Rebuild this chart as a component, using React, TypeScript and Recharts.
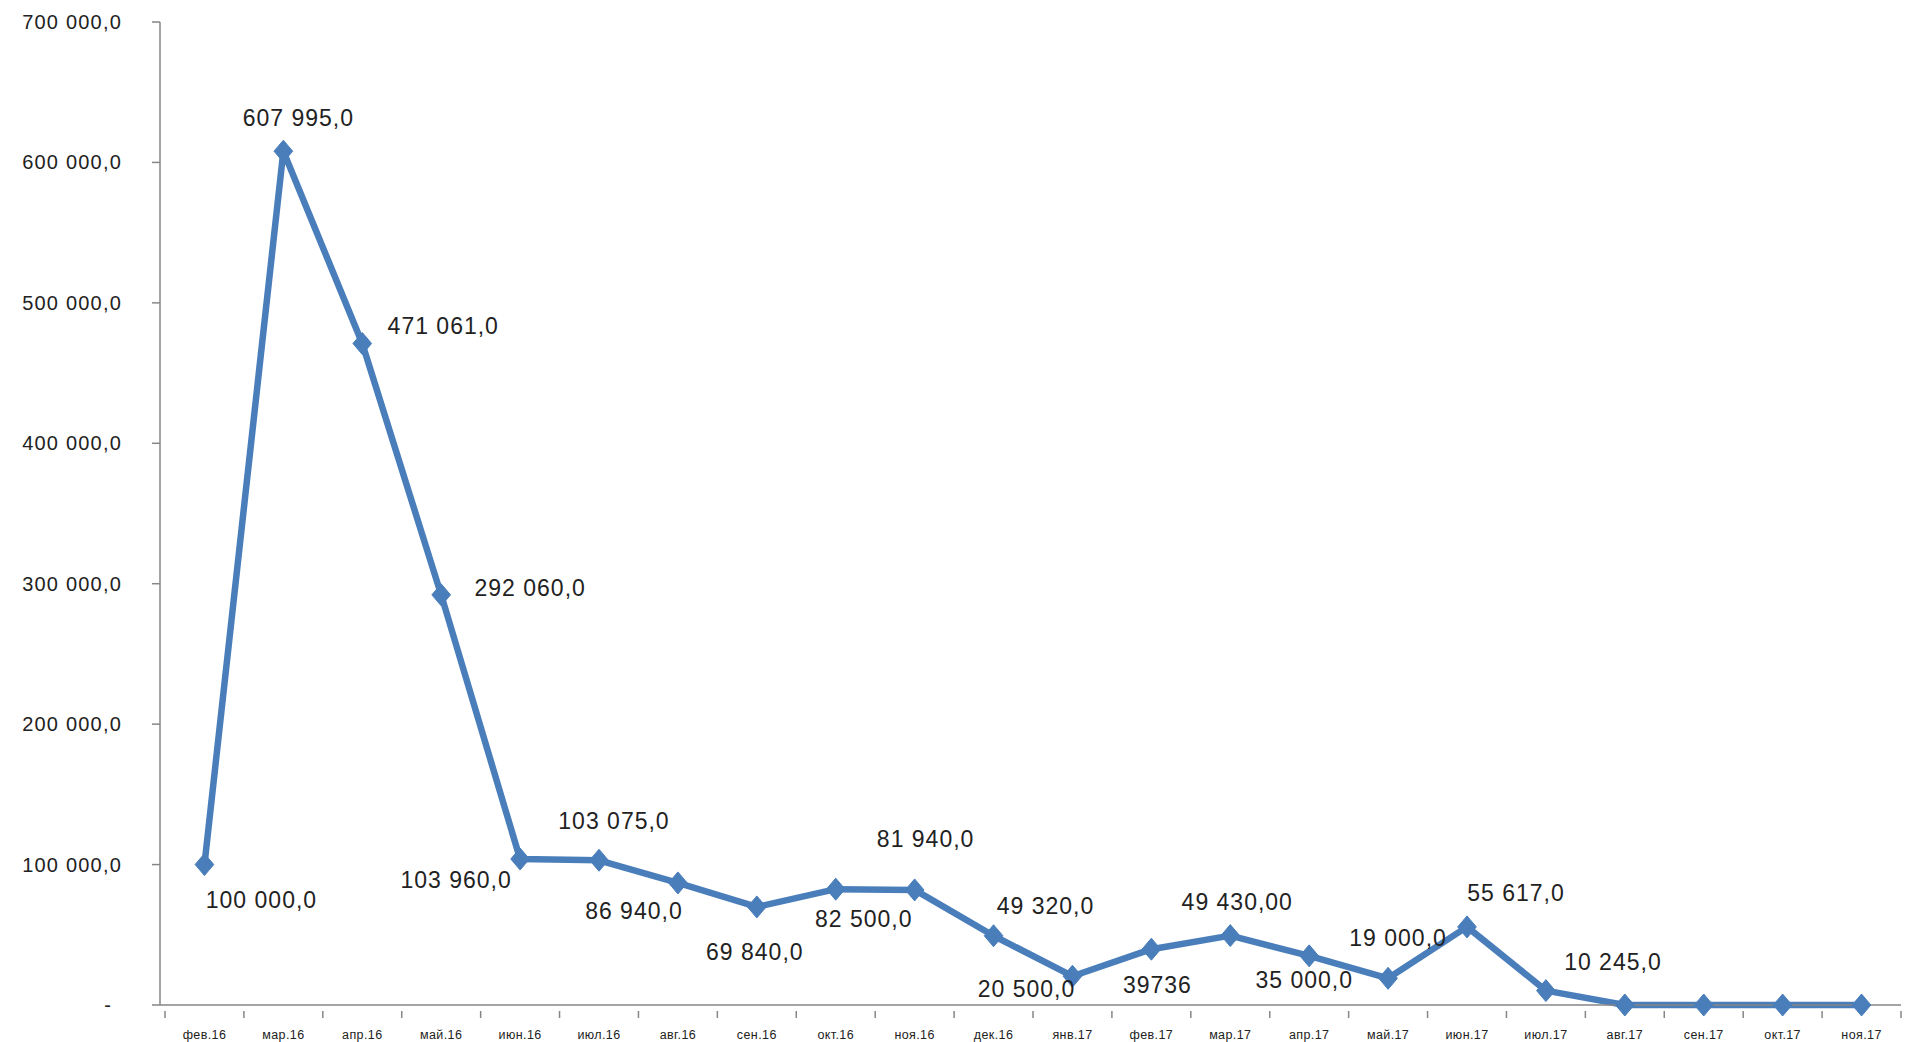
import { Line, LineChart, XAxis, YAxis } from 'recharts';

const months = [
  'фев.16', 'мар.16', 'апр.16', 'май.16', 'июн.16', 'июл.16', 'авг.16', 'сен.16', 'окт.16', 'ноя.16', 'дек.16',
  'янв.17', 'фев.17', 'мар.17', 'апр.17', 'май.17', 'июн.17', 'июл.17', 'авг.17', 'сен.17', 'окт.17', 'ноя.17',
];

const amounts = [
  100000, 607995, 471061, 292060, 103960, 103075, 86940, 69840, 82500, 81940, 49320,
  20500, 39736, 49430, 35000, 19000, 55617, 10245, 0, 0, 0, 0,
];

const valueLabels = [
  '100 000,0', '607 995,0', '471 061,0', '292 060,0', '103 960,0', '103 075,0', '86 940,0', '69 840,0',
  '82 500,0', '81 940,0', '49 320,0', '20 500,0', '39736', '49 430,00', '35 000,0', '19 000,0',
  '55 617,0', '10 245,0', '', '', '', '',
];

const yTicks = [0, 100000, 200000, 300000, 400000, 500000, 600000, 700000];

// where each data label sits relative to its point (px)
const labelDx = [57, 15, 81, 89, -64, 15, -44, -2, 28, 11, 52, -46, 6, 7, -5, 10, 49, 67, 0, 0, 0, 0];
const labelDy = [35, -33, -17, -7, 21, -39, 28, 45, 30, -51, -30, 13, 36, -34, 24, -40, -34, -29, 0, 0, 0, 0];

const data = months.map((m, i) => ({ month: m, value: amounts[i] }));

const WIDTH = 1905;
const HEIGHT = 1042;
const PLOT_LEFT = 160;
const PLOT_RIGHT = 4;
const SHIFT = 5;
const BAND = (WIDTH - PLOT_LEFT - PLOT_RIGHT - SHIFT) / months.length;

const BLUE = '#4a7ebb';
const AXIS = '#868686';
const TEXT = '#222';
const FONT = '"Liberation Sans", Arial, sans-serif';

const fmt = (v: number) => {
  if (v === 0) return '-';
  return v.toLocaleString('ru-RU').replace(/\u00a0|\u202f/g, ' ') + ',0';
};

const YTick = (props: any) => {
  const { x, y, payload } = props;
  const v = payload.value;
  return (
    <text
      x={v === 0 ? x - 10 : x}
      y={y}
      textAnchor="end"
      dominantBaseline="central"
      fill={TEXT}
      fontSize={20}
      letterSpacing={1.2}
      fontFamily={FONT}
    >
      {fmt(v)}
    </text>
  );
};

const XTick = (props: any) => {
  const { x, y, payload, index } = props;
  const left = x - BAND / 2;
  const axisY = y - 2;
  return (
    <g>
      <line x1={left} y1={axisY} x2={left} y2={axisY + 7} stroke={AXIS} strokeWidth={1.5} />
      {index === months.length - 1 && (
        <line x1={left + BAND} y1={axisY} x2={left + BAND} y2={axisY + 7} stroke={AXIS} strokeWidth={1.5} />
      )}
      <text x={x} y={axisY + 28} textAnchor="middle" fill={TEXT} fontSize={12.5} letterSpacing={0.4} fontFamily={FONT}>
        {payload.value}
      </text>
    </g>
  );
};

const Diamond = (props: any) => {
  const { cx, cy } = props;
  if (cx == null || cy == null) return null;
  const r = 11;
  return (
    <polygon
      points={`${cx},${cy - r} ${cx + r * 0.85},${cy} ${cx},${cy + r} ${cx - r * 0.85},${cy}`}
      fill={BLUE}
      stroke={BLUE}
      strokeWidth={1}
    />
  );
};

const ValueLabel = (props: any) => {
  const { x, y, index } = props;
  const text = valueLabels[index];
  if (!text) return null;
  return (
    <text
      x={x + labelDx[index]}
      y={y + labelDy[index]}
      textAnchor="middle"
      dominantBaseline="central"
      fill={TEXT}
      fontSize={23}
      letterSpacing={1}
      fontFamily={FONT}
    >
      {text}
    </text>
  );
};

export default function App() {
  return (
    <div style={{ position: 'absolute', left: 0, top: 0, width: WIDTH, height: HEIGHT, background: '#fff' }}>
      <LineChart
        width={WIDTH}
        height={HEIGHT}
        data={data}
        margin={{ top: 22, right: PLOT_RIGHT, bottom: 0, left: 0 }}
      >
        <XAxis
          dataKey="month"
          height={37}
          interval={0}
          padding={{ left: BAND / 2 + SHIFT, right: BAND / 2 }}
          axisLine={{ stroke: AXIS, strokeWidth: 1.5 }}
          tickLine={false}
          tick={<XTick />}
        />
        <YAxis
          width={PLOT_LEFT}
          domain={[0, 700000]}
          ticks={yTicks}
          interval={0}
          axisLine={{ stroke: AXIS, strokeWidth: 1.5 }}
          tickLine={{ stroke: AXIS, strokeWidth: 1.5 }}
          tickSize={8}
          tickMargin={30}
          tick={<YTick />}
        />
        <Line
          type="linear"
          dataKey="value"
          stroke={BLUE}
          strokeWidth={6.5}
          strokeLinejoin="round"
          dot={<Diamond />}
          activeDot={false}
          label={<ValueLabel />}
          isAnimationActive={false}
        />
      </LineChart>
    </div>
  );
}
